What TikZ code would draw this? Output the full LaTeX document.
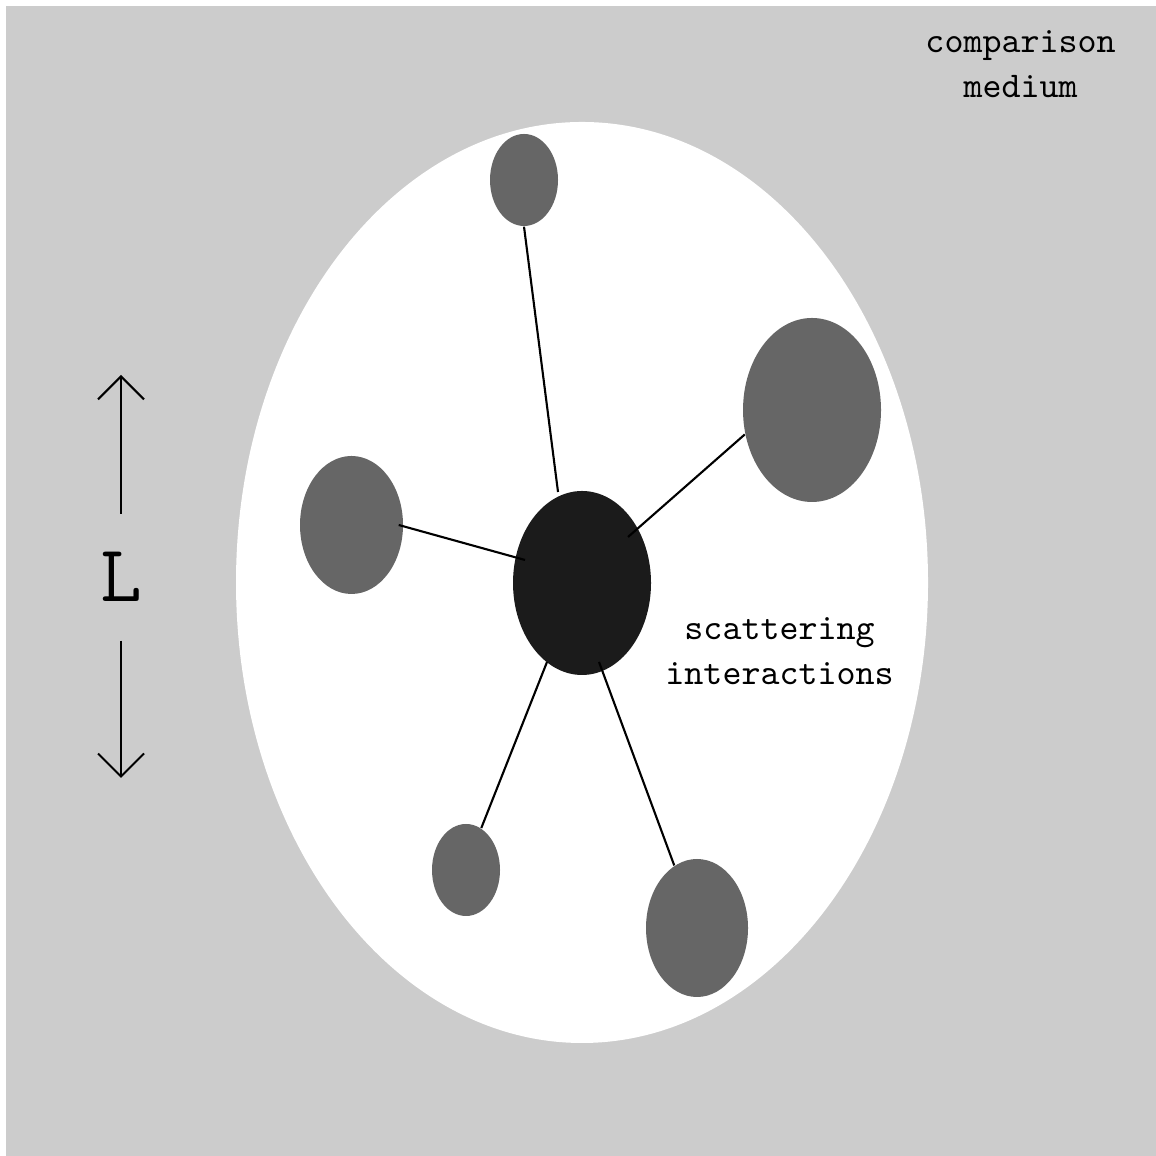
\documentclass[tikz,border=0pt]{standalone}
\usepackage{fontspec}
\usetikzlibrary{shapes.geometric, arrows.meta}

\definecolor{mediumgrey}{HTML}{CCCCCC}
\definecolor{particle}{HTML}{666666}
\definecolor{centre}{HTML}{1B1B1B}

\tikzset{
  blob/.style = {ellipse, fill=particle, inner sep=0pt, minimum width=#1},
  link/.style = {line width=0.6pt},
  barb/.style = {line width=0.6pt, -{Straight Barb[length=0.23cm, width=0.46cm]}},
  label/.style = {font=\ttfamily\fontsize{10.3pt}{12.8pt}\selectfont, align=center}
}

\begin{document}
\begin{tikzpicture}
      \useasboundingbox (0,0) rectangle (11.56,11.56);
      \fill[mediumgrey] (0.06,0) rectangle (11.56,11.50);
      \fill[white] (5.82,5.735) ellipse [x radius=3.46, y radius=4.605];

      \node[label] (medium) at (10.205,10.92) {comparison\\medium};
      \node[label] (scatter) at (7.795,5.05) {scattering\\interactions};

      \node[blob=1.38cm, fill=centre, minimum height=1.84cm] (hub) at (5.82,5.73) {};
      \node[blob=0.68cm, minimum height=0.92cm] (up) at (5.24,9.76) {};
      \node[blob=1.38cm, minimum height=1.84cm] (right) at (8.12,7.46) {};
      \node[blob=1.03cm, minimum height=1.38cm] (left) at (3.515,6.31) {};
      \node[blob=0.68cm, minimum height=0.92cm] (lowleft) at (4.66,2.86) {};
      \node[blob=1.02cm, minimum height=1.38cm] (lowright) at (6.97,2.28) {};

      \coordinate (hubup) at (5.58,6.64);
      \coordinate (hubright) at (6.28,6.19);
      \coordinate (hubleft) at (5.25,5.96);
      \coordinate (hubll) at (5.47,4.94);
      \coordinate (hublr) at (5.99,4.94);

      \draw[link] (up.south) -- (hubup);
      \draw[link] (right.200) -- (hubright);
      \draw[link] ([xshift=-0.05cm]left.east) -- (hubleft);
      \draw[link] (lowleft.70) -- (hubll);
      \draw[link] (lowright.110) -- (hublr);

      \node[font=\ttfamily\fontsize{23pt}{27pt}\selectfont, anchor=base, inner xsep=0pt, inner ysep=0.38cm] (L) at (1.21,5.54) {L};
      \coordinate (Ltop) at (1.21,7.81);
      \coordinate (Lbottom) at (1.21,3.78);
      \draw[barb] (L.north) -- (Ltop);
      \draw[barb] (L.south) -- (Lbottom);
    \end{tikzpicture}
\end{document}
